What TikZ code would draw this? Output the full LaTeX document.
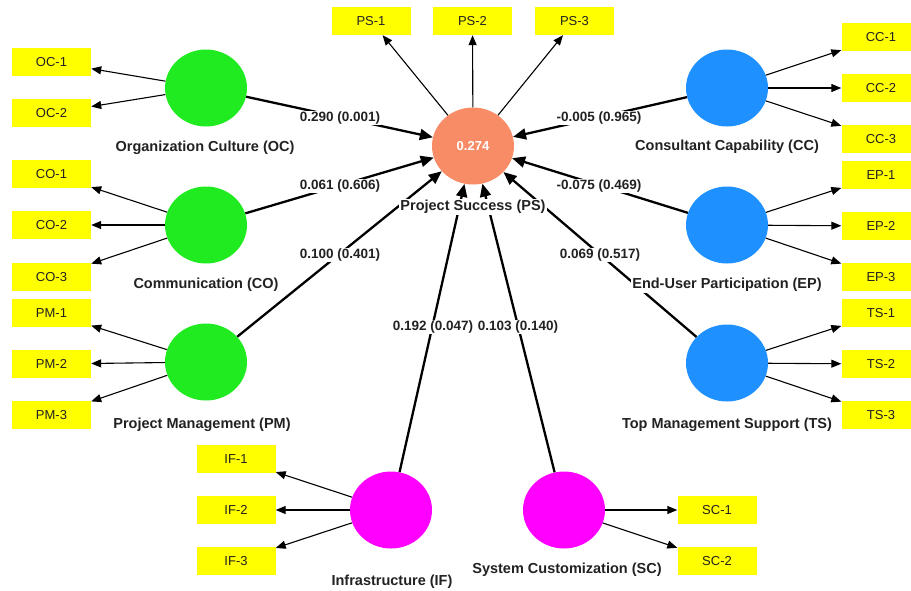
\documentclass[tikz,border=0pt]{standalone}
\usepackage{fontspec}
\setmainfont{Liberation Sans}
\usetikzlibrary{shapes.geometric,arrows.meta}

\definecolor{lvgreen}{RGB}{32,234,32}
\definecolor{lvblue}{RGB}{30,144,255}
\definecolor{lvmagenta}{RGB}{255,0,255}
\definecolor{lvorange}{RGB}{247,140,102}
\definecolor{boxyellow}{RGB}{255,255,0}
\definecolor{inktext}{RGB}{34,34,34}

\begin{document}
\begin{tikzpicture}[x=1pt,y=-1pt,
  latent/.style={ellipse, minimum width=82pt, minimum height=77pt, inner sep=0pt},
  indicator/.style={fill=boxyellow, minimum width=79pt, minimum height=28pt, inner sep=0pt,
    font=\fontsize{13}{15}\selectfont, text=inktext},
  lvname/.style={fill=white, inner sep=1pt, font=\fontsize{14.5}{16}\selectfont\bfseries, text=inktext},
  coef/.style={fill=white, inner sep=1pt, font=\fontsize{13.5}{15}\selectfont\bfseries, text=inktext},
  loading/.style={draw=black, line width=1.1pt, -{Triangle[length=10pt,width=8pt]}},
  structural/.style={draw=black, line width=2.3pt, -{Triangle[length=13pt,width=11pt]}}
]
\clip (0,0) rectangle (911,590);

% latent variables
\node[latent, fill=lvorange, text=white, font=\fontsize{13}{15}\selectfont\bfseries] (PS) at (473,146) {0.274};
\node[latent, fill=lvgreen] (OC) at (206,88) {};
\node[latent, fill=lvgreen] (CO) at (206,225) {};
\node[latent, fill=lvgreen] (PM) at (206,362) {};
\node[latent, fill=lvblue] (CC) at (727,88) {};
\node[latent, fill=lvblue] (EP) at (727,225) {};
\node[latent, fill=lvblue] (TS) at (727,363) {};
\node[latent, fill=lvmagenta] (IF) at (391,510) {};
\node[latent, fill=lvmagenta] (SC) at (564,510) {};

% indicators
\node[indicator] (PS1) at (371,21) {PS-1};
\node[indicator] (PS2) at (472.5,21) {PS-2};
\node[indicator] (PS3) at (574.5,21) {PS-3};
\node[indicator] (OC1) at (51.5,62) {OC-1};
\node[indicator] (OC2) at (51.5,113) {OC-2};
\node[indicator] (CO1) at (51.5,174) {CO-1};
\node[indicator] (CO2) at (51.5,225) {CO-2};
\node[indicator] (CO3) at (51.5,277) {CO-3};
\node[indicator] (PM1) at (51.5,313) {PM-1};
\node[indicator] (PM2) at (51.5,364) {PM-2};
\node[indicator] (PM3) at (51.5,415) {PM-3};
\node[indicator] (CC1) at (881,37) {CC-1};
\node[indicator] (CC2) at (881,88) {CC-2};
\node[indicator] (CC3) at (881,139) {CC-3};
\node[indicator] (EP1) at (881,175) {EP-1};
\node[indicator] (EP2) at (881,226) {EP-2};
\node[indicator] (EP3) at (881,277) {EP-3};
\node[indicator] (TS1) at (881,313) {TS-1};
\node[indicator] (TS2) at (881,364) {TS-2};
\node[indicator] (TS3) at (881,415) {TS-3};
\node[indicator] (IF1) at (236,459) {IF-1};
\node[indicator] (IF2) at (236,510) {IF-2};
\node[indicator] (IF3) at (236,561) {IF-3};
\node[indicator] (SC1) at (717,510) {SC-1};
\node[indicator] (SC2) at (717,561) {SC-2};

% outer loadings
\foreach \lv/\ind in {PS/PS1,PS/PS2,PS/PS3,OC/OC1,OC/OC2,CO/CO1,CO/CO2,CO/CO3,
  PM/PM1,PM/PM2,PM/PM3,CC/CC1,CC/CC2,CC/CC3,EP/EP1,EP/EP2,EP/EP3,
  TS/TS1,TS/TS2,TS/TS3,IF/IF1,IF/IF2,IF/IF3,SC/SC1,SC/SC2}
  \draw[loading] (\lv) -- (\ind);

% structural paths
\foreach \src in {OC,CO,PM,CC,EP,TS,IF,SC}
  \draw[structural] (\src) -- (PS);

% path coefficients
\node[coef] (cOC) at (340,118) {0.290 (0.001)};
\node[coef] (cCO) at (340,186) {0.061 (0.606)};
\node[coef] (cPM) at (340,255) {0.100 (0.401)};
\node[coef] (cCC) at (599,118) {-0.005 (0.965)};
\node[coef] (cEP) at (599,186) {-0.075 (0.469)};
\node[coef] (cTS) at (600,255) {0.069 (0.517)};
\node[coef] (cIF) at (433,327) {0.192 (0.047)};
\node[coef] (cSC) at (518,327) {0.103 (0.140)};

% construct names
\node[lvname] (nPS) at (473,207) {Project Success (PS)};
\node[lvname] (nOC) at (205,148) {Organization Culture (OC)};
\node[lvname] (nCO) at (206,285) {Communication (CO)};
\node[lvname] (nPM) at (202,425) {Project Management (PM)};
\node[lvname] (nCC) at (727,147) {Consultant Capability (CC)};
\node[lvname] (nEP) at (727,285) {End-User Participation (EP)};
\node[lvname] (nTS) at (727,425) {Top Management Support (TS)};
\node[lvname] (nIF) at (392,582) {Infrastructure (IF)};
\node[lvname] (nSC) at (567,570) {System Customization (SC)};
\end{tikzpicture}
\end{document}
